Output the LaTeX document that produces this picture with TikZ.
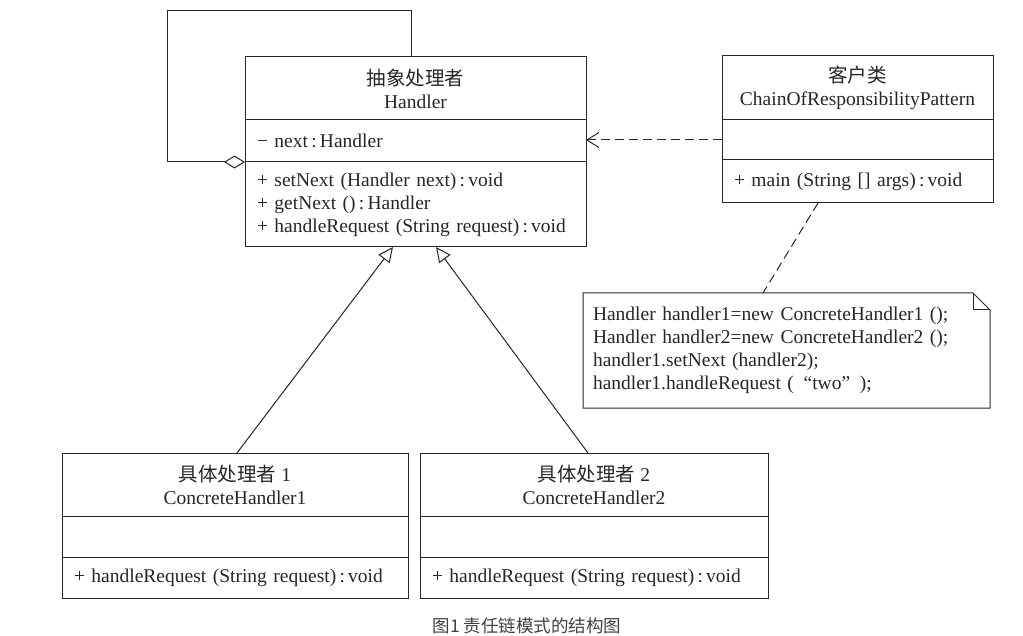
\documentclass[tikz,border=0pt]{standalone}
\usepackage{fontspec}
\setmainfont{Liberation Serif}
\newfontfamily\cjk{Noto Sans CJK SC}
\usepackage{tikz}
\usetikzlibrary{arrows.meta}
\usetikzlibrary{positioning}

\begin{document}
\begin{tikzpicture}[x=1pt, y=-1pt, line width=1pt, black!85,
	every node/.style={inner sep=0pt, outer sep=0pt, font=\fontsize{19.5}{23}\selectfont},
	classtitle/.style 2 args={draw, align=center, minimum width=#1, minimum height=#2},
	classpart/.style n args={3}{draw, align=left, inner xsep=12pt, text width=#1, minimum height=#2, below=0pt of #3},
	inherit/.style={-{Triangle[open, length=15pt, width=14pt, line width=1pt]}},
	depend/.style={dashed, dash pattern=on 9pt off 5pt, -{Straight Barb[length=12pt, width=15pt, line width=1pt]}},
	aggr/.style={-{Diamond[open, length=21pt, width=13pt, line width=1pt]}}]
	\node[classtitle={341pt}{63pt}, anchor=north west] (handler) at (245,57) {{\cjk 抽象处理者}\\Handler};
	\node[classpart={317pt}{42pt}{handler}] (handler-attr) {− next\,:\,Handler};
	\node[classpart={317pt}{85pt}{handler-attr}] (handler-ops) {+ setNext (Handler next)\,:\,void\\+ getNext ()\,:\,Handler\\+ handleRequest (String request)\,:\,void};

	\node[classtitle={271pt}{64pt}, anchor=north west] (client) at (722,56) {{\cjk 客户类}\\ChainOfResponsibilityPattern};
	\node[classpart={247pt}{40pt}{client}] (client-attr) {};
	\node[classpart={247pt}{43pt}{client-attr}] (client-ops) {+ main (String [] args)\,:\,void};

	\node[classtitle={346pt}{63pt}, anchor=north west] (ch1) at (62,453) {{\cjk 具体处理者} 1\\ConcreteHandler1};
	\node[classpart={322pt}{41pt}{ch1}] (ch1-attr) {};
	\node[classpart={322pt}{41pt}{ch1-attr}] (ch1-ops) {+ handleRequest (String request)\,:\,void};

	\node[classtitle={348pt}{63pt}, anchor=north west] (ch2) at (420,453) {{\cjk 具体处理者} 2\\ConcreteHandler2};
	\node[classpart={324pt}{41pt}{ch2}] (ch2-attr) {};
	\node[classpart={324pt}{41pt}{ch2-attr}] (ch2-ops) {+ handleRequest (String request)\,:\,void};

	\node[anchor=north west, minimum width=407pt, minimum height=115pt, text width=387pt, inner xsep=10pt, align=left] (note) at (583,293) {Handler handler1=new ConcreteHandler1 ();\\Handler handler2=new ConcreteHandler2 ();\\handler1.setNext (handler2);\\handler1.handleRequest (\enspace“two”\enspace);};
	\draw (note.south west) -- (note.north west) -- ([xshift=-17pt]note.north east) -- ([yshift=-17pt]note.north east) -- (note.south east) -- cycle;
	\draw ([xshift=-17pt]note.north east) |- ([yshift=-17pt]note.north east);

	\coordinate (loop) at (167,11);
	\draw[aggr] ([xshift=166pt]handler.north west) |- (loop) |- (handler-attr.south west);
	\draw[depend] (client-attr.west) -- (client-attr.west -| handler-attr.east);
	\draw[dashed, dash pattern=on 9pt off 5pt] ([xshift=96pt]client-ops.south west) -- ([xshift=180pt]note.north west);
	\draw[inherit] ([xshift=175pt]ch1.north west) -- ([xshift=148pt]handler-ops.south west);
	\draw[inherit] ([xshift=168pt]ch2.north west) -- ([xshift=191pt]handler-ops.south west);

	\node[font=\cjk\fontsize{17.5}{21}\selectfont, text=black!75] (caption) at (527,626) {图1 责任链模式的结构图};
	\useasboundingbox (0,0) rectangle (1023,636);
\end{tikzpicture}
\end{document}
